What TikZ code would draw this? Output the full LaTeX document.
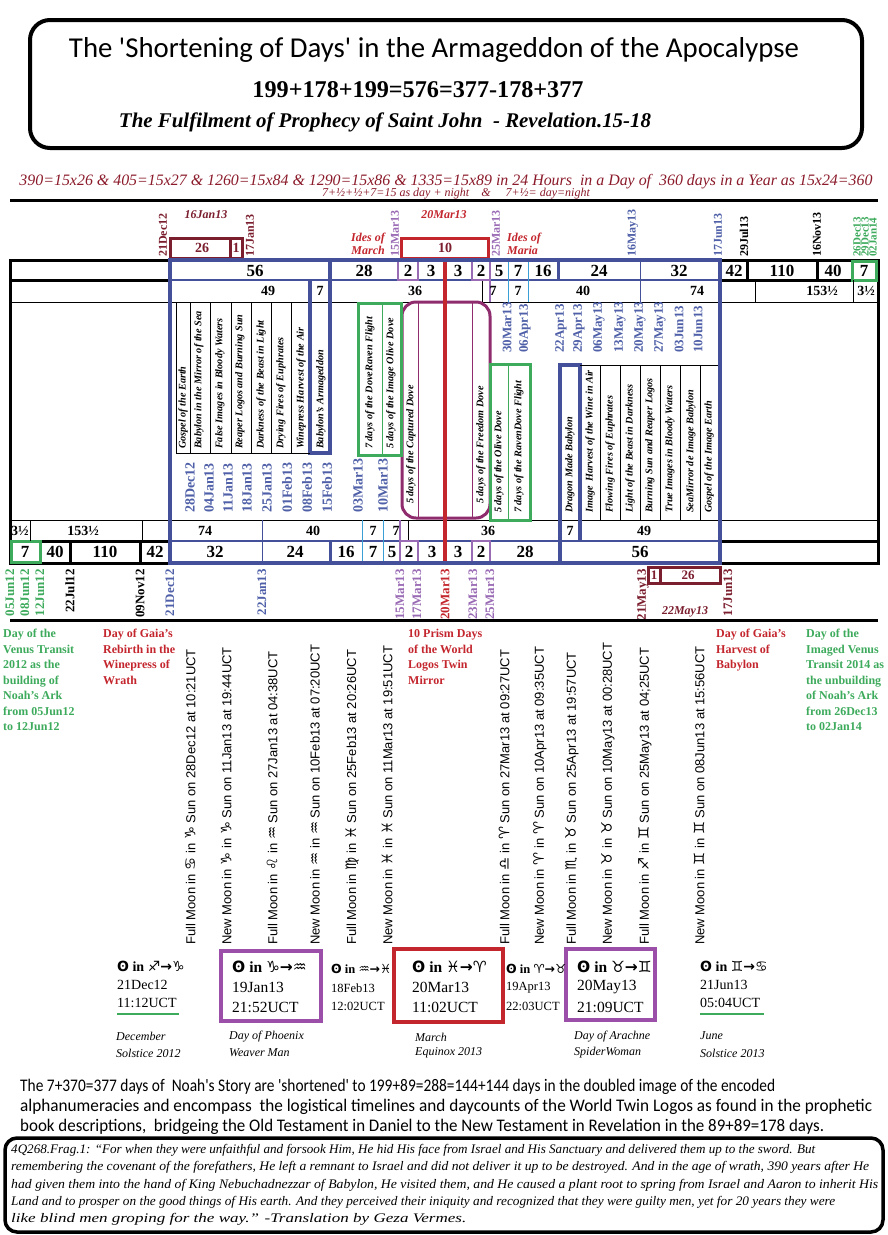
\documentclass[tikz,border=0pt]{standalone}
\usepackage{fontspec}
\usepackage{graphicx}
\setmainfont{Liberation Serif}
\newfontfamily\calli{Carlito}
\newfontfamily\sansf{Liberation Sans}
\newfontfamily\symf{DejaVu Sans}
\newcommand\zs[1]{{\symf #1}}
\newcommand\zb[1]{{\symf\scalebox{1.12}{#1}}}
\newcommand\qfit[2]{\resizebox{#1}{9.2pt}{\itshape #2}}
\newcommand\pfit[2]{\resizebox{#1}{12.3pt}{\calli #2}}
\definecolor{dred}{HTML}{7B1E2E}
\definecolor{mred}{HTML}{8B1A2A}
\definecolor{rred}{HTML}{C4262E}
\definecolor{pbox}{HTML}{8E2C6E}
\definecolor{purp}{HTML}{9A6BB5}
\definecolor{pbox2}{HTML}{9B4FA8}
\definecolor{bblue}{HTML}{45509A}
\definecolor{dblue}{HTML}{4F60A8}
\definecolor{ggreen}{HTML}{3DAA5C}
\definecolor{cyanl}{HTML}{3A9FD5}
\begin{document}
\begin{tikzpicture}[x=1pt,y=-1pt,
  thickblk/.style={line width=3pt},
  thinblk/.style={line width=0.8pt},
  vdate/.style={rotate=90, inner sep=0pt, font=\bfseries\fontsize{13}{13}\selectfont},
  lab/.style={rotate=90, anchor=west, inner sep=0pt, font=\bfseries\itshape\fontsize{10.2}{10}\selectfont},
  bignum/.style={inner sep=0pt, font=\bfseries\fontsize{17}{17}\selectfont},
  smallnum/.style={inner sep=0pt, font=\bfseries\fontsize{14}{14}\selectfont},
  moon/.style={rotate=90, anchor=west, inner sep=0pt, font=\sansf\fontsize{13}{14}\selectfont},
  hdr/.style={anchor=north west, align=left, inner sep=0pt, font=\bfseries\fontsize{12}{15.5}\selectfont},
  sol/.style={anchor=west, inner sep=0pt},
  capt/.style={anchor=west, inner sep=0pt, font=\itshape\fontsize{12}{12}\selectfont},
  qline/.style={anchor=base west, inner sep=0pt}
]
\useasboundingbox (0,0) rectangle (888,1235);
\fill[white] (0,0) rectangle (888,1235);

% ---------- title box ----------
\draw[line width=4pt, rounded corners=20pt] (30,20) rectangle (862,148);
\node[inner sep=0pt] (title) at (434,50) {\resizebox{730pt}{!}{\calli\fontsize{30}{30}\selectfont The 'Shortening of Days' in the Armageddon of the Apocalypse}};
\node[inner sep=0pt] (formula) at (418,90) {\resizebox{331pt}{16pt}{\bfseries 199+178+199=576=377-178+377}};
\node[inner sep=0pt] (fulfil) at (385,122) {\resizebox{532pt}{!}{\bfseries\itshape The Fulfilment of Prophecy of Saint John\ \ - Revelation.15-18}};

\node[inner sep=0pt, mred] (sub1) at (446,182) {\resizebox{853pt}{!}{\itshape 390=15x26 \& 405=15x27 \& 1260=15x84 \& 1290=15x86 \& 1335=15x89 in 24 Hours\ \ in a Day of\ \ 360 days in a Year as 15x24=360}};
\node[inner sep=0pt, mred, font=\itshape\fontsize{12}{12}\selectfont] (sub2) at (456,194) {7+½+½+7=15 as day + night\quad \&\quad\ 7+½= day=night};
\draw[thickblk] (10,200) -- (878,200);

% ---------- outer timeline frame ----------
\draw[thickblk] (10,260) rectangle (878,563);
\draw[thickblk] (10,280) -- (170,280);
\draw[thickblk] (720,280) -- (878,280);
\draw[thinblk] (10,302) -- (878,302);
\draw[thinblk] (10,520) -- (878,520);
\draw[thickblk] (10,541) -- (170,541);
\draw[thickblk] (720,541) -- (878,541);
% top right black cells
\draw[thickblk] (747,260) -- (747,280);
\draw[thickblk] (817,260) -- (817,280);
\draw[ggreen, line width=3pt] (852,261) rectangle (876,280);
\draw[thinblk] (853,280) -- (853,302);
\draw[thinblk] (755,280) -- (755,302);
% bottom left black cells
\draw[ggreen, line width=3pt] (11,541) rectangle (40,562);
\draw[thickblk] (70,541) -- (70,563);
\draw[thickblk] (140,541) -- (140,563);
\draw[thinblk] (30,520) -- (30,541);
\draw[thinblk] (142,520) -- (142,541);

% ---------- blue frame ----------
\draw[bblue, line width=2.5pt] (170,280) -- (720,280);
\draw[bblue, line width=2.5pt] (170,541) -- (720,541);
\draw[bblue, line width=3.5pt] (330,260) -- (330,453) -- (310,453) -- (310,280);
\draw[bblue, line width=3.5pt] (560,563) -- (560,365) -- (580,365) -- (580,541);
\draw[bblue, line width=3pt] (558,260) -- (558,280);
\draw[bblue, line width=3pt] (330,541) -- (330,563);
\draw[bblue, line width=0.8pt] (640,260) -- (640,302);
\draw[bblue, line width=0.8pt] (262,520) -- (262,563);
\draw[cyanl, line width=0.8pt] (508,260) -- (508,302);
\draw[cyanl, line width=0.8pt] (528,260) -- (528,302);
\draw[cyanl, line width=0.8pt] (362,520) -- (362,563);
\draw[cyanl, line width=0.8pt] (383,520) -- (383,563);
\draw[thinblk] (482,280) -- (482,302);
\draw[thinblk] (408,520) -- (408,541);

% label cells
\foreach \x in {176,190,210,231,251,271,291} \draw[thinblk] (\x,302) -- (\x,453);
\draw[thinblk] (176,453) -- (310,453);
\foreach \x in {600,620,640,660,680,700} \draw[thinblk] (\x,365) -- (\x,520);
\draw[thinblk] (580,365) -- (718,365);

% purple / red central structure
\draw[purp, line width=2.5pt] (398,261) rectangle (418,280);
\draw[purp, line width=2.5pt] (472,261) rectangle (490,280);
\draw[purp, line width=2.5pt] (490,280) -- (490,302);
\draw[purp, line width=2.5pt] (400,541) rectangle (418,562);
\draw[purp, line width=2.5pt] (472,541) rectangle (490,562);
\draw[purp, line width=2.5pt] (400,520) -- (400,541);
\draw[pbox, line width=3pt, rounded corners=14pt] (402,302) rectangle (490,518);
\draw[pbox, line width=0.8pt] (418,302) -- (418,518);
\draw[pbox, line width=0.8pt] (472,302) -- (472,518);
\draw[rred, line width=3.5pt] (445,260) -- (445,563);
\draw[rred, line width=3pt] (401,238) rectangle (488,258);

% green boxes
\draw[ggreen, line width=3pt] (358,303) rectangle (401,455);
\draw[ggreen, line width=0.8pt] (382,303) -- (382,455);
\draw[ggreen, line width=3pt] (490,364) rectangle (530,520);
\draw[ggreen, line width=0.8pt] (508,364) -- (508,520);

% dark red boxes
\draw[dred, line width=3pt] (170,238) rectangle (242,258);
\draw[dred, line width=3pt] (230,238) -- (230,258);
\draw[dred, line width=3pt] (648,567) rectangle (720,583);
\draw[dred, line width=3pt] (660,567) -- (660,583);

\draw[bblue, line width=4pt] (170,260) rectangle (720,563);

% ---------- numbers ----------
\node[inner sep=0pt, dred, font=\bfseries\fontsize{14}{14}\selectfont] (n26a) at (202,248) {26};
\node[inner sep=0pt, dred, font=\bfseries\fontsize{14}{14}\selectfont] (n1a) at (236,248) {1};
\node[inner sep=0pt, dred, font=\bfseries\fontsize{14}{14}\selectfont] (n10) at (445,248) {10};
\node[inner sep=0pt, dred, font=\bfseries\fontsize{13}{13}\selectfont] (n1b) at (654,575) {1};
\node[inner sep=0pt, dred, font=\bfseries\fontsize{13}{13}\selectfont] (n26b) at (688,575) {26};

\foreach \x/\t [count=\i] in {255/56,364/28,408/2,431/3,458/3,481/2,499/5,518/7,543/16,599/24,679/32,734/42,782/110,833/40,864/7}
  \node[bignum] (ra\i) at (\x,271) {\t};
\foreach \x/\t [count=\i] in {268/49,320/7,415/36,493/7,518/7,583/40,697/74,822/153½,866/3½}
  \node[smallnum] (rb\i) at (\x,291) {\t};
\foreach \x/\t [count=\i] in {20/3½,83/153½,205/74,313/40,373/7,396/7,488/36,570/7,644/49}
  \node[smallnum] (rc\i) at (\x,531) {\t};
\foreach \x/\t [count=\i] in {25/7,55/40,105/110,155/42,215/32,295/24,346/16,373/7,392/5,409/2,432/3,458/3,481/2,525/28,640/56}
  \node[bignum] (rd\i) at (\x,552) {\t};

% ---------- labels above top timeline ----------
\node[inner sep=0pt, dred, font=\bfseries\itshape\fontsize{12}{12}\selectfont] (l16jan) at (206,215) {16Jan13};
\node[inner sep=0pt, rred, font=\bfseries\itshape\fontsize{12}{12}\selectfont] (l20mar) at (444,215) {20Mar13};
\node[inner sep=0pt, rred, anchor=east, align=right, font=\bfseries\itshape\fontsize{12}{12.5}\selectfont] (idesmarch) at (385,244) {Ides of\\March};
\node[inner sep=0pt, rred, anchor=west, align=left, font=\bfseries\itshape\fontsize{12}{12.5}\selectfont] (idesmaria) at (507,244) {Ides of\\Maria};
\node[inner sep=0pt, dred, font=\bfseries\itshape\fontsize{12}{12}\selectfont] (l22may) at (685,612) {22May13};

\foreach \x/\t/\c [count=\i] in {163/21Dec12/dred,250/17Jan13/dred,395/15Mar13/purp,496/25Mar13/purp,633/16May13/dblue,718/17Jun13/dblue,744/29Jul13/black,817/16Nov13/black}
  \node[vdate, anchor=west, \c, font=\bfseries\fontsize{12}{12}\selectfont] (td\i) at (\x,257) {\t};
\foreach \x/\t [count=\i] in {857/26Dec13,865/29Dec13,873/02Jan14}
  \node[vdate, anchor=west, ggreen, font=\bfseries\fontsize{11}{11}\selectfont] (tg\i) at (\x,257) {\t};

% bottom dates
\foreach \x/\t/\c [count=\i] in {10/05Jun12/ggreen,25/08Jun12/ggreen,40/12Jun12/ggreen,70/22Jul12/black,140/09Nov12/black,170/21Dec12/dblue,262/22Jan13/dblue,400/15Mar13/purp,417/17Mar13/purp,445/20Mar13/rred,473/23Mar13/purp,490/25Mar13/purp,643/21May13/dred,728/17Jun13/dred}
  \node[vdate, anchor=east, \c] (bd\i) at (\x,569) {\t};

% ---------- cell labels ----------
\foreach \x/\t [count=\i] in {183/Gospel of the Earth,199/Babylon in the Mirror of the Sea,220/False Images in Bloody Waters,240/Reaper Logos and Burning Sun,261/Darkness of the Beast in Light,281/Drying Fires of Euphrates,301/Winepress Harvest of the Air,321/Babylon's Armageddon,370/7 days of the DoveRaven Flight,391/5 days of the Image Olive Dove}
  \node[lab] (tl\i) at (\x,449) {\t};
\node[lab] (capd) at (411,504) {5 days of the Captured Dove};
\node[lab] (freed) at (481,504) {5 days of the Freedom Dove};
\foreach \x/\t [count=\i] in {499/5 days of the Olive Dove,519/7 days of the RavenDove Flight,570/Dragon Made Babylon,590/Image\ \ Harvest of the Wine in Air,610/Flowing Fires of Euphrates,630/Light of the Beast in Darkness,650/Burning Sun and Reaper Logos,670/True Images in Bloody Waters,691/SeaMirror de Image Babylon,709/Gospel of the Image Earth}
  \node[lab] (bl\i) at (\x,513) {\t};

\foreach \x/\t [count=\i] in {190/28Dec12,209/04Jan13,228/11Jan13,247/18Jan13,267/25Jan13,287/01Feb13,307/08Feb13,327/15Feb13,358/03Mar13,383/10Mar13}
  \node[vdate, anchor=west, dblue, font=\bfseries\fontsize{14}{14}\selectfont] (md\i) at (\x,513) {\t};
\foreach \x/\t [count=\i] in {507/30Mar13,525/06Apr13,561/22Apr13,579/29Apr13,599/06May13,620/13May13,640/20May13,660/27May13,679/03Jun13,698/10Jun13}
  \node[vdate, anchor=west, dblue, font=\bfseries\fontsize{13}{13}\selectfont] (rd\i) at (\x,353) {\t};

% ---------- header labels ----------
\draw[thickblk] (10,620) -- (878,620);
\node[hdr, ggreen] (h1) at (3,629) {Day of the\\Venus Transit\\2012 as the\\building of\\Noah's Ark\\from 05Jun12\\to 12Jun12};
\node[hdr, rred] (h2) at (103,629) {Day of Gaia's\\Rebirth in the\\Winepress of\\Wrath};
\node[hdr, rred] (h3) at (408,629) {10 Prism Days\\of the World\\Logos Twin\\Mirror};
\node[hdr, rred] (h4) at (716,629) {Day of Gaia's\\Harvest of\\Babylon};
\node[hdr, ggreen] (h5) at (806,629) {Day of the\\Imaged Venus\\Transit 2014 as\\the unbuilding\\of Noah's Ark\\from 26Dec13\\to 02Jan14};

% ---------- moon texts ----------
\node[moon] (m1) at (190,945) {Full Moon in \zb{♋} in \zb{♑} Sun on 28Dec12 at 10:21UCT};
\node[moon] (m2) at (226,945) {New Moon in \zb{♑} in \zb{♑} Sun on 11Jan13 at 19:44UCT};
\node[moon] (m3) at (272,945) {Full Moon in \zb{♌} in \zb{♒} Sun on 27Jan13 at 04:38UCT};
\node[moon] (m4) at (315,945) {New Moon in \zb{♒} in \zb{♒} Sun on 10Feb13 at 07:20UCT};
\node[moon] (m5) at (352,945) {Full Moon in \zb{♍} in \zb{♓} Sun on 25Feb13 at 20:26UCT};
\node[moon] (m6) at (387,945) {New Moon in \zb{♓} in \zb{♓} Sun on 11Mar13 at 19:51UCT};
\node[moon] (m7) at (504,945) {Full Moon in \zb{♎} in \zb{♈} Sun on 27Mar13 at 09:27UCT};
\node[moon] (m8) at (540,945) {New Moon in \zb{♈} in \zb{♈} Sun on 10Apr13 at 09:35UCT};
\node[moon] (m9) at (572,945) {Full Moon in \zb{♏} in \zb{♉} Sun on 25Apr13 at 19:57UCT};
\node[moon] (m10) at (608,945) {New Moon in \zb{♉} in \zb{♉} Sun on 10May13 at 00:28UCT};
\node[moon] (m11) at (645,945) {Full Moon in \zb{♐} in \zb{♊} Sun on 25May13 at 04;25UCT};
\node[moon] (m12) at (699,945) {New Moon in \zb{♊} in \zb{♊} Sun on 08Jun13 at 15:56UCT};

% ---------- solstice / equinox boxes ----------
\draw[pbox2, line width=4pt] (221,951) rectangle (321,1021);
\draw[rred, line width=4.5pt] (394,949) rectangle (503,1022);
\draw[pbox2, line width=4pt] (566,949) rectangle (655,1020);
\draw[ggreen, line width=2.5pt] (117,1014) -- (179,1014);
\draw[ggreen, line width=2.5pt] (700,1014) -- (764,1014);

\begin{scope}[every node/.style={sol, font=\fontsize{14}{14}\selectfont}]
\node (s1a) at (117,966) {\bfseries\zs{ʘ} in \zs{♐→♑}};
\node (s1b) at (117,985) {21Dec12};
\node (s1c) at (117,1003) {11:12UCT};
\node (s6a) at (700,966) {\bfseries\zs{ʘ} in \zs{♊→♋}};
\node (s6b) at (700,985) {21Jun13};
\node (s6c) at (700,1003) {05:04UCT};
\end{scope}
\begin{scope}[every node/.style={sol, font=\fontsize{15.5}{15.5}\selectfont}]
\node (s2a) at (232,967) {\bfseries\zs{ʘ} in \zs{♑→♒}};
\node (s2b) at (232,987) {19Jan13};
\node (s2c) at (232,1007) {21:52UCT};
\node (s4a) at (412,967) {\bfseries\zs{ʘ} in \zs{♓→♈}};
\node (s4b) at (412,987) {20Mar13};
\node (s4c) at (412,1007) {11:02UCT};
\node (s5a) at (577,967) {\bfseries\zs{ʘ} in \zs{♉→♊}};
\node (s5b) at (577,987) {20May13};
\node (s5c) at (577,1007) {21:09UCT};
\end{scope}
\begin{scope}[every node/.style={sol, font=\fontsize{12.5}{12.5}\selectfont}]
\node (s3a) at (331,969) {\bfseries\zs{ʘ} in \zs{♒→♓}};
\node (s3b) at (331,988) {18Feb13};
\node (s3c) at (331,1006) {12:02UCT};
\node (s7a) at (506,969) {\bfseries\zs{ʘ} in \zs{♈→♉}};
\node (s7b) at (506,988) {19Apr13};
\node (s7c) at (506,1006) {22:03UCT};
\end{scope}
\node[capt] (c1a) at (116,1036) {December};
\node[capt] (c1b) at (116,1053) {Solstice 2012};
\node[capt] (c2a) at (229,1037) {Day of Phoenix};
\node[capt] (c2b) at (229,1053) {Weaver Man};
\node[capt] (c3a) at (415,1037) {March};
\node[capt] (c3b) at (415,1053) {Equinox 2013};
\node[capt] (c4a) at (574,1037) {Day of Arachne};
\node[capt] (c4b) at (574,1053) {SpiderWoman};
\node[capt] (c5a) at (700,1036) {June};
\node[capt] (c5b) at (700,1053) {Solstice 2013};

% ---------- paragraph ----------
\node[qline] (p1) at (20,1091) {\pfit{755pt}{The 7+370=377 days of\ \ Noah's Story are 'shortened' to 199+89=288=144+144 days in the doubled image of the encoded}};
\node[qline] (p2) at (20,1111) {\pfit{852pt}{alphanumeracies and encompass\ \ the logistical timelines and daycounts of the World Twin Logos as found in the prophetic}};
\node[qline] (p3) at (20,1131) {\pfit{804pt}{book descriptions,\ \ bridgeing the Old Testament in Daniel to the New Testament in Revelation in the 89+89=178 days.}};

% ---------- quote box ----------
\draw[line width=3.5pt, rounded corners=12pt] (5,1138) rectangle (883,1232);
\node[qline] (q1) at (11,1153) {\qfit{804pt}{4Q268.Frag.1: “For when they were unfaithful and forsook Him, He hid His face from Israel and His Sanctuary and delivered them up to the sword. But}};
\node[qline] (q2) at (11,1170) {\qfit{858pt}{remembering the covenant of the forefathers, He left a remnant to Israel and did not deliver it up to be destroyed. And in the age of wrath, 390 years after He}};
\node[qline] (q3) at (11,1188) {\qfit{867pt}{had given them into the hand of King Nebuchadnezzar of Babylon, He visited them, and He caused a plant root to spring from Israel and Aaron to inherit His}};
\node[qline] (q4) at (11,1205) {\qfit{824pt}{Land and to prosper on the good things of His earth. And they perceived their iniquity and recognized that they were guilty men, yet for 20 years they were}};
\node[qline] (q5) at (11,1222) {\resizebox{455pt}{9.2pt}{\itshape like blind men groping for the way.” -Translation by Geza Vermes.}};
\end{tikzpicture}
\end{document}
